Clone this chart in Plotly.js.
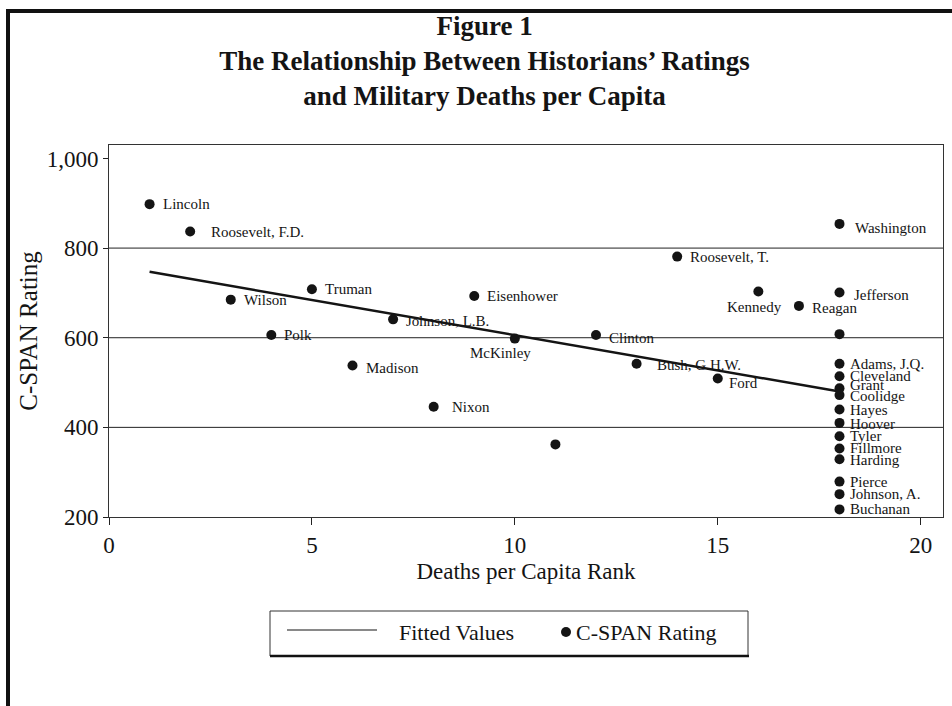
<!DOCTYPE html>
<html>
<head>
<meta charset="utf-8">
<script src="https://cdn.plot.ly/plotly-3.0.1.min.js"></script>
<style>
  html, body { margin: 0; padding: 0; background: #fff; }
  #chart { position: absolute; left: 0; top: 0; width: 952px; height: 706px; }
  #frame { position: absolute; left: 6px; top: 9px; width: 960px; height: 720px;
           border-top: 4px solid #111; border-left: 4px solid #111; pointer-events: none; }
</style>
</head>
<body>
<div id="chart"></div>
<div id="frame"></div>
<script>
// ---- data ----
const presidents = ["Lincoln","Roosevelt, F.D.","Wilson","Polk","Truman","Madison","Johnson, L.B.","Nixon",
  "Eisenhower","McKinley","","Clinton","Bush, G.H.W.","Roosevelt, T.","Ford","Kennedy","Reagan",
  "Washington","Jefferson","","Adams, J.Q.","Cleveland","Grant","Coolidge","Hayes","Hoover","Tyler",
  "Fillmore","Harding","Pierce","Johnson, A.","Buchanan"];
const deathsRank = [1,2,3,4,5,6,7,8,9,10,11,12,13,14,15,16,17,
  18,18,18,18,18,18,18,18,18,18,18,18,18,18,18];
const cspanRating = [898,837,685,606,708,538,641,446,693,598,362,606,542,781,509,703,671,
  854,701,608,542,514,487,472,440,410,380,353,329,279,251,217];
const fitRank = [1, 18];
const fitValue = [747, 480];
const xTicks = [0,5,10,15,20];
const yTicks = [200,400,600,800,1000];
const gridValues = [400,600,800];
const seriesNames = ["Fitted Values", "C-SPAN Rating"];

// ---- label placement (pixel offsets from each dot) ----
const labelOffset = {
  "Roosevelt, F.D.": {dx:19},
  "Nixon": {dx:16},
  "Bush, G.H.W.": {dx:18, dy:-1},
  "Washington": {dx:13, dy:-4},
  "Kennedy": {dx:-4, dy:-15, anchor:"center"},
  "McKinley": {dx:-14, dy:-14, anchor:"center"},
  "Ford": {dx:9, dy:-4},
  "Jefferson": {dx:12, dy:-3},
  "Madison": {dy:-2},
  "Johnson, L.B.": {dy:-2},
  "Clinton": {dy:-3},
  "Reagan": {dy:-2},
  "Adams, J.Q.": {dx:8}, "Cleveland": {dx:8}, "Grant": {dx:8, dy:3}, "Coolidge": {dx:8, dy:-1},
  "Hayes": {dx:8, dy:-1}, "Hoover": {dx:8, dy:-1}, "Tyler": {dx:8}, "Fillmore": {dx:8},
  "Harding": {dx:8, dy:-1}, "Pierce": {dx:8}, "Johnson, A.": {dx:8}, "Buchanan": {dx:8}
};

const FONT = "Liberation Serif, Times New Roman, serif";
const INK = "#141414";

// plot area in pixels (for placing the hand-drawn legend box)
const M = {l: 109, r: 9, t: 145, b: 189};
const PW = 952 - M.l - M.r, PH = 706 - M.t - M.b;
const px = v => (v - M.l) / PW;          // page x pixel -> paper x
const py = v => (706 - M.b - v) / PH;     // page y pixel -> paper y

const annotations = [];
presidents.forEach((name, i) => {
  if (!name) return;
  const o = labelOffset[name] || {};
  annotations.push({
    x: deathsRank[i], y: cspanRating[i], xref: "x", yref: "y",
    text: name, showarrow: false,
    xanchor: o.anchor || "left", yanchor: "middle",
    xshift: (o.dx !== undefined ? o.dx : 11), yshift: (o.dy || 0),
    font: {family: FONT, size: 15, color: INK}
  });
});

const shapes = gridValues.map(v => ({
  type: "line", xref: "paper", x0: 0, x1: 1, yref: "y", y0: v, y1: v,
  line: {color: "#222", width: 1}, layer: "below"
}));

// legend box (drawn by hand to match the reference's long line sample)
shapes.push(
  {type: "rect", xref: "paper", yref: "paper", x0: px(270), x1: px(748), y0: py(656), y1: py(611),
   line: {color: "#333", width: 1}, fillcolor: "#fff"},
  {type: "line", xref: "paper", yref: "paper", x0: px(270), x1: px(749), y0: py(656), y1: py(656),
   line: {color: "#111", width: 2.5}},
  {type: "line", xref: "paper", yref: "paper", x0: px(287), x1: px(377), y0: py(630), y1: py(630),
   line: {color: INK, width: 1.2}},
  {type: "circle", xref: "paper", yref: "paper", x0: px(561), x1: px(571), y0: py(637), y1: py(627),
   line: {color: INK, width: 0}, fillcolor: INK}
);
annotations.push(
  {xref: "paper", yref: "paper", x: px(397), y: py(632), xanchor: "left", yanchor: "middle",
   text: seriesNames[0], showarrow: false, font: {family: FONT, size: 22, color: INK}},
  {xref: "paper", yref: "paper", x: px(574), y: py(632), xanchor: "left", yanchor: "middle",
   text: seriesNames[1], showarrow: false, font: {family: FONT, size: 22, color: INK}}
);

const traces = [
  {
    x: fitRank, y: fitValue, type: "scatter", mode: "lines", name: seriesNames[0],
    line: {color: INK, width: 2.5}, hoverinfo: "skip"
  },
  {
    x: deathsRank, y: cspanRating, text: presidents, type: "scatter", mode: "markers",
    name: seriesNames[1], marker: {color: INK, size: 10}
  }
];

const layout = {
  width: 952, height: 706,
  margin: M,
  paper_bgcolor: "#fff", plot_bgcolor: "#fff",
  font: {family: FONT, color: INK, size: 22},
  showlegend: false,
  title: {
    text: "<b>Figure 1<br>The Relationship Between Historians’ Ratings<br>and Military Deaths per Capita</b>",
    font: {family: FONT, size: 27, color: INK},
    x: 0.509, xref: "container", xanchor: "center",
    y: 1 - 35/706, yref: "container", yanchor: "top"
  },
  xaxis: {
    range: [0, 20.55], tickvals: xTicks, ticks: "outside", ticklen: 7, tickwidth: 1, tickcolor: "#222",
    showline: true, linecolor: "#333", linewidth: 1, mirror: true,
    showgrid: false, zeroline: false,
    tickfont: {family: FONT, size: 23, color: INK},
    title: {text: "Deaths per Capita Rank", font: {family: FONT, size: 23, color: INK}, standoff: 6}
  },
  yaxis: {
    range: [200, 1030], tickvals: yTicks, tickformat: ",d", ticks: "outside", ticklen: 5, tickwidth: 1,
    tickcolor: "#222", showline: true, linecolor: "#333", linewidth: 1, mirror: true,
    showgrid: false, zeroline: false,
    tickfont: {family: FONT, size: 23, color: INK},
    title: {text: "C-SPAN Rating", font: {family: FONT, size: 25, color: INK}, standoff: 1}
  },
  shapes: shapes,
  annotations: annotations
};

Plotly.newPlot("chart", traces, layout, {displayModeBar: false, staticPlot: true});
</script>
</body>
</html>
